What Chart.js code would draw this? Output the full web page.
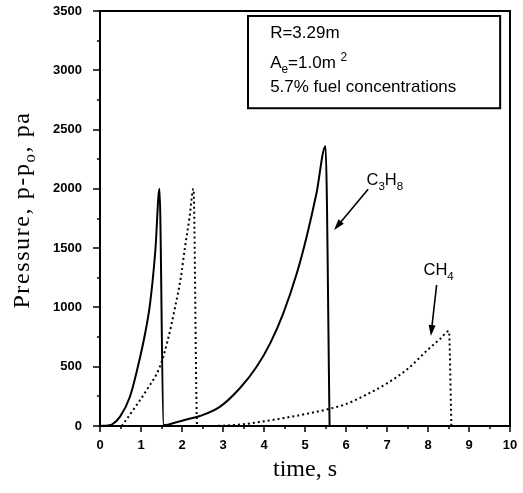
<!DOCTYPE html>
<html>
<head>
<meta charset="UTF-8">
<title>Pressure vs time</title>
<script src="https://cdn.jsdelivr.net/npm/chart.js"></script>
<style>
  html, body { margin: 0; padding: 0; background: #fff; }
  #wrap { width: 523px; height: 493px; position: relative; }
</style>
</head>
<body>
<div id="wrap"><canvas id="chart"></canvas></div>
<script>
// solid curve (C3H8)
const c3h8Time     = [0, 0.2, 0.3, 0.49, 0.73, 0.91, 1.1, 1.22, 1.35, 1.45, 1.55, 1.6, 1.8, 2.0, 2.2, 2.44, 2.93, 3.41, 3.82, 4.15, 4.47, 4.8, 5.04, 5.28, 5.5, 5.6];
const c3h8Pressure = [0, 5, 15, 79, 247, 480, 780, 1030, 1480, 2000, 10, 8, 25, 45, 63, 84, 163, 318, 500, 697, 950, 1288, 1597, 1963, 2360, 0];
// dotted curve (CH4)
const ch4Time     = [0.53, 0.81, 1.14, 1.46, 1.65, 1.83, 1.97, 2.07, 2.18, 2.28, 2.37, 2.6, 3.0, 3.5, 4.0, 4.5, 5.0, 5.6, 6.0, 6.5, 7.0, 7.5, 8.0, 8.3, 8.51, 8.57];
const ch4Pressure = [0, 135, 304, 500, 720, 1000, 1250, 1500, 1750, 2000, 0, 0, 3, 15, 40, 68, 100, 145, 185, 265, 360, 480, 645, 735, 800, 0];

const xMin = 0, xMax = 10, xStep = 1;
const yMin = 0, yMax = 3500, yStep = 500;

const xTitle = 'time, s';
const yTitle = [['Pressure, p-p', 0], ['o', 1], [', pa', 0]];
const infoLines = [
  [['R=3.29m', 0]],
  [['A', 0], ['e', 1], ['=1.0m ', 0], ['2', 2]],
  [['5.7% fuel concentrations', 0]]
];
const labelC3H8 = [['C', 0], ['3', 1], ['H', 0], ['8', 1]];
const labelCH4 = [['CH', 0], ['4', 1]];

const SANS = '"Liberation Sans", Arial, sans-serif';
const SERIF = '"Liberation Serif", "Times New Roman", serif';

function toPoints(xs, ys) {
  return xs.map((x, i) => ({ x: x, y: ys[i] }));
}

function richWidth(ctx, parts, size, fam) {
  let w = 0;
  parts.forEach(([t, m]) => {
    ctx.font = (m ? size * 0.7 : size) + 'px ' + fam;
    w += ctx.measureText(t).width;
  });
  return w;
}

function drawRich(ctx, parts, x, y, size, fam) {
  let cx = x;
  parts.forEach(([t, m]) => {
    ctx.font = (m ? size * 0.7 : size) + 'px ' + fam;
    const dy = m === 1 ? size * 0.3 : (m === 2 ? -size * 0.42 : 0);
    ctx.fillText(t, cx, y + dy);
    cx += ctx.measureText(t).width;
  });
}

function arrow(ctx, x1, y1, x2, y2) {
  const a = Math.atan2(y2 - y1, x2 - x1);
  const hl = 11, hw = 3.5;
  ctx.beginPath();
  ctx.moveTo(x1, y1);
  ctx.lineTo(x2 - hl * 0.8 * Math.cos(a), y2 - hl * 0.8 * Math.sin(a));
  ctx.stroke();
  ctx.beginPath();
  ctx.moveTo(x2, y2);
  ctx.lineTo(x2 - hl * Math.cos(a) + hw * Math.sin(a), y2 - hl * Math.sin(a) - hw * Math.cos(a));
  ctx.lineTo(x2 - hl * Math.cos(a) - hw * Math.sin(a), y2 - hl * Math.sin(a) + hw * Math.cos(a));
  ctx.closePath();
  ctx.fill();
}

const decorations = {
  id: 'decorations',
  afterDraw(chart) {
    const ctx = chart.ctx;
    const xs = chart.scales.x, ys = chart.scales.y;
    const area = chart.chartArea;
    ctx.save();
    ctx.strokeStyle = '#000';
    ctx.fillStyle = '#000';

    // frame
    ctx.lineWidth = 2;
    ctx.strokeRect(area.left, area.top, area.right - area.left, area.bottom - area.top);

    // ticks (major + minor)
    ctx.lineWidth = 1.5;
    ctx.beginPath();
    for (let v = yMin; v <= yMax; v += yStep / 2) {
      const py = Math.round(ys.getPixelForValue(v));
      const len = v % yStep === 0 ? 7 : 3;
      ctx.moveTo(area.left - len, py);
      ctx.lineTo(area.left, py);
    }
    for (let v = xMin; v <= xMax; v += xStep / 2) {
      const px = Math.round(xs.getPixelForValue(v));
      const len = v % xStep === 0 ? 6 : 3;
      ctx.moveTo(px, area.bottom);
      ctx.lineTo(px, area.bottom + len);
    }
    ctx.stroke();

    // info box
    const bx1 = xs.getPixelForValue(3.61), bx2 = xs.getPixelForValue(9.76);
    const by1 = ys.getPixelForValue(3458), by2 = ys.getPixelForValue(2680);
    ctx.lineWidth = 2;
    ctx.strokeRect(bx1, by1, bx2 - bx1, by2 - by1);
    ctx.textAlign = 'left';
    ctx.textBaseline = 'alphabetic';
    const tx = xs.getPixelForValue(4.15);
    [3270, 3017, 2820].forEach((v, i) => {
      drawRich(ctx, infoLines[i], tx, ys.getPixelForValue(v), 17, SANS);
    });

    // labels with arrows
    drawRich(ctx, labelC3H8, xs.getPixelForValue(6.5), ys.getPixelForValue(2033), 16.5, SANS);
    drawRich(ctx, labelCH4, xs.getPixelForValue(7.89), ys.getPixelForValue(1274), 16.5, SANS);
    ctx.lineWidth = 1.6;
    arrow(ctx, xs.getPixelForValue(6.54), ys.getPixelForValue(1996), xs.getPixelForValue(5.71), ys.getPixelForValue(1653));
    arrow(ctx, xs.getPixelForValue(8.21), ys.getPixelForValue(1189), xs.getPixelForValue(8.07), ys.getPixelForValue(759));

    // axis titles
    ctx.font = '24px ' + SERIF;
    ctx.textAlign = 'center';
    ctx.textBaseline = 'middle';
    ctx.fillText(xTitle, (area.left + area.right) / 2, 470);

    ctx.translate(23, 210);
    ctx.rotate(-Math.PI / 2);
    ctx.textAlign = 'left';
    ctx.letterSpacing = '1.6px';
    const w = richWidth(ctx, yTitle, 24, SERIF);
    drawRich(ctx, yTitle, -w / 2, 0, 24, SERIF);
    ctx.restore();
  }
};

new Chart(document.getElementById('chart'), {
  type: 'line',
  data: {
    datasets: [
      {
        label: 'C3H8',
        data: toPoints(c3h8Time, c3h8Pressure),
        borderColor: '#000',
        borderWidth: 2,
        pointRadius: 0,
        cubicInterpolationMode: 'monotone',
        fill: false
      },
      {
        label: 'CH4',
        data: toPoints(ch4Time, ch4Pressure),
        borderColor: '#000',
        borderWidth: 2,
        borderDash: [2, 3],
        pointRadius: 0,
        cubicInterpolationMode: 'monotone',
        fill: false
      }
    ]
  },
  options: {
    responsive: true,
    maintainAspectRatio: false,
    animation: false,
    layout: { padding: { top: 11, right: 13, left: 0, bottom: 0 } },
    plugins: { legend: { display: false }, tooltip: { enabled: false } },
    scales: {
      x: {
        type: 'linear',
        min: xMin, max: xMax,
        grid: { display: false, drawTicks: false },
        border: { display: false },
        ticks: { stepSize: xStep, padding: 12, color: '#000', font: { family: SANS, size: 13, weight: 'bold' } },
        afterFit(scale) { scale.height = 67; scale.paddingLeft = 0; scale.paddingRight = 0; }
      },
      y: {
        min: yMin, max: yMax,
        grid: { display: false, drawTicks: false },
        border: { display: false },
        ticks: { stepSize: yStep, padding: 18, color: '#000', callback: v => String(v), font: { family: SANS, size: 13, weight: 'bold' } },
        afterFit(scale) { scale.width = 100; scale.paddingTop = 0; scale.paddingBottom = 0; }
      }
    }
  },
  plugins: [decorations]
});
</script>
</body>
</html>
